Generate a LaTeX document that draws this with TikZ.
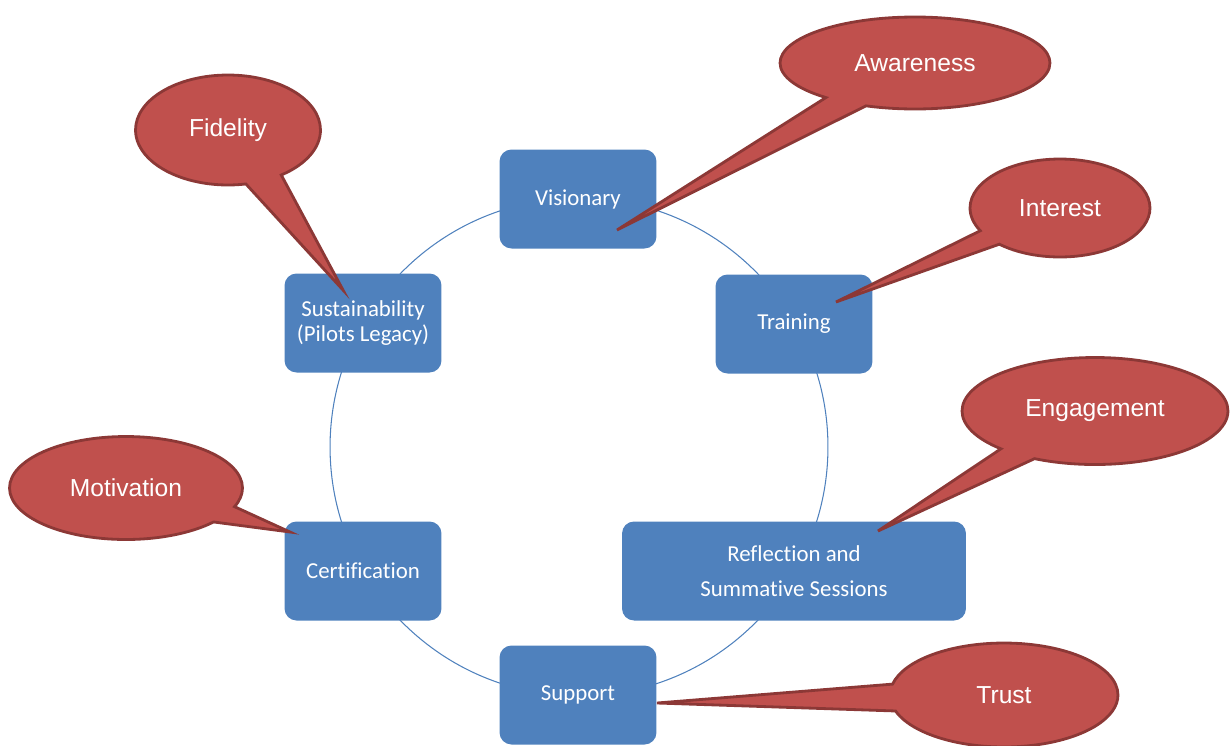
\documentclass[tikz,border=0pt]{standalone}
\usepackage{fontspec}
\usepackage{tikz}
\usetikzlibrary{shapes.geometric,shapes.callouts}
\newfontfamily\boxfont[Ligatures={NoCommon}]{Carlito}
\newfontfamily\bubblefont{Liberation Sans}
\definecolor{boxblue}{HTML}{4F81BD}
\definecolor{bubblered}{HTML}{C0504D}
\definecolor{bubbleedge}{HTML}{8C3836}

\begin{document}
\begin{tikzpicture}[x=0.02cm,y=-0.02cm,
    stage/.style={fill=boxblue,rounded corners=0.24cm,text=white,align=center,
      minimum width=3.14cm,minimum height=1.98cm,inner sep=2pt,
      font=\boxfont\fontsize{13}{14}\selectfont},
    bubble/.style={ellipse callout,fill=bubblered,draw=bubbleedge,line width=1.6pt,
      text=white,font=\bubblefont\fontsize{14}{16}\selectfont,inner sep=1pt}]
      \useasboundingbox (0,0) rectangle (1230,745);
      % the cycle
      \coordinate (O) at (579,447);
      \draw[boxblue,line width=0.6pt] (O) circle [radius=4.98cm];
      % stages
      \node[stage] (vis) at (578,199) {Visionary};
      \node[stage] (trn) at (794,324) {Training};
      \node[stage] (sus) at (363,323) {Sustainability\\(Pilots Legacy)};
      \node[stage] (cert) at (363,571) {Certification};
      \node[stage,minimum width=6.88cm] (refl) at (794,571) {Reflection and\\[6pt]Summative Sessions};
      \node[stage] (sup) at (578,695) {Support};
      % tips of the callouts
      \coordinate (awtip) at (617,230);
      \coordinate (fitip) at (343,290);
      \coordinate (intip) at (836,302);
      \coordinate (entip) at (878,531);
      \coordinate (motip) at (290,532);
      \coordinate (trtip) at (657,703);
      % callouts
      \node[bubble,minimum width=5.4cm,minimum height=1.84cm,callout pointer arc=20,
        callout absolute pointer={(awtip)}] (aw) at (915,63) {Awareness};
      \node[bubble,minimum width=3.7cm,minimum height=2.2cm,callout pointer arc=24,
        callout absolute pointer={(fitip)}] (fi) at (228,130) {Fidelity};
      \node[bubble,minimum width=3.6cm,minimum height=1.96cm,callout pointer arc=20,
        callout absolute pointer={(intip)}] (in) at (1060,208) {Interest};
      \node[bubble,minimum width=5.32cm,minimum height=2.14cm,callout pointer arc=18,
        callout absolute pointer={(entip)}] (en) at (1095,411) {Engagement};
      \node[bubble,minimum width=4.66cm,minimum height=2.06cm,callout pointer arc=20,
        callout absolute pointer={(motip)}] (mo) at (126,488) {Motivation};
      \node[bubble,minimum width=4.56cm,minimum height=2.08cm,callout pointer arc=30,
        callout absolute pointer={(trtip)}] (tr) at (1004,695) {Trust};
    \end{tikzpicture}
\end{document}
